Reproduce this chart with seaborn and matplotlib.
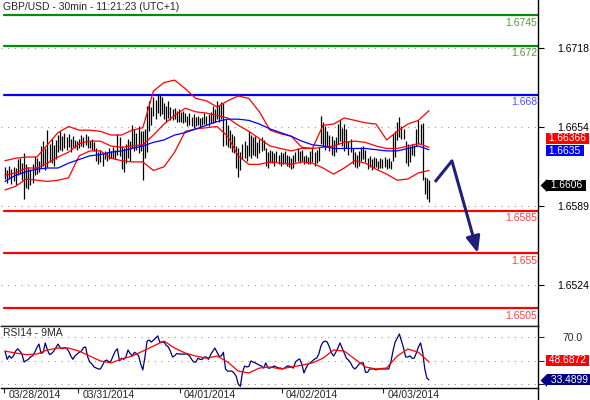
import numpy as np
import pandas as pd
import matplotlib
matplotlib.use('Agg')
import matplotlib.pyplot as plt
import seaborn as sns

sns.set_style('white')
plt.rcParams['font.family'] = ['Liberation Sans', 'DejaVu Sans']
plt.rcParams['font.size'] = 7.5

# GBP/USD 30min bars, 03/28 - 04/03/2014. Prices stored in pips above 1.6500
BASE = 1.65

highs = [
    # 03/28
    121, 118, 122, 119, 121, 120, 127, 128, 124, 132,
    123, 121, 119, 123, 130, 128, 126, 138, 142, 136,
    151, 140, 144, 139, 143, 147, 150, 146, 149, 145,
    148, 144, 146, 143, 142,
    # 03/31
    144, 147, 145, 148, 146, 142, 144, 141, 136, 133,
    135, 132, 134, 133, 136, 134, 137, 135, 148, 145,
    138, 136, 140, 144, 142, 155, 152, 149, 154, 150,
    150, 152, 171, 175, 170, 178, 176, 181, 180, 178,
    173, 171, 175, 170, 168, 169, 167, 168,
    # 04/01
    166, 167, 165, 163, 165, 162, 164, 162, 163, 161,
    162, 165, 163, 164, 166, 171, 168, 175, 172, 174,
    173, 160, 155, 151, 148, 146, 138, 136, 133, 140,
    142, 139, 150, 147, 145, 146, 141, 144, 145, 143,
    136, 133, 135, 134, 132, 134, 131, 133,
    # 04/02
    132, 134, 131, 130, 128, 131, 133, 136, 134, 135,
    130, 131, 129, 134, 136, 133, 135, 137, 163, 158,
    154, 150, 147, 146, 143, 145, 156, 159, 153, 156,
    152, 142, 144, 136, 133, 131, 134, 137, 138, 135,
    128, 130, 127, 129, 128, 126, 128, 127,
    # 04/03
    129, 127, 128, 126, 148, 150, 158, 162, 154,
    152, 142, 140, 138, 140, 139, 152, 159, 156, 157,
    113, 112, 110,
]

lows = [
    # 03/28
    111, 108, 112, 107, 109, 106, 114, 115, 110, 95,
    104, 103, 106, 108, 114, 115, 117, 120, 122, 118,
    121, 125, 124, 122, 127, 133, 135, 134, 136, 135,
    137, 133, 137, 136, 135,
    # 03/31
    136, 138, 137, 139, 136, 136, 135, 134, 126, 123,
    125, 122, 127, 126, 127, 128, 128, 127, 131, 130,
    119, 117, 124, 128, 126, 136, 134, 135, 132, 134,
    110, 128, 133, 150, 155, 163, 160, 165, 163, 164,
    160, 158, 161, 159, 159, 160, 158, 158,
    # 04/01
    158, 157, 158, 154, 155, 154, 153, 154, 155, 153,
    155, 156, 155, 154, 157, 157, 158, 160, 158, 160,
    138, 139, 137, 136, 133, 132, 120, 113, 118, 127,
    128, 126, 130, 128, 131, 130, 128, 132, 134, 135,
    122, 120, 124, 124, 122, 125, 123, 122,
    # 04/02
    123, 124, 122, 121, 119, 120, 125, 126, 124, 126,
    123, 124, 123, 123, 125, 122, 124, 126, 140, 137,
    135, 137, 134, 131, 130, 133, 140, 142, 138, 134,
    136, 131, 133, 123, 121, 120, 122, 126, 127, 125,
    119, 121, 118, 120, 121, 119, 120, 120,
    # 04/03
    121, 119, 120, 119, 126, 129, 143, 145, 144,
    144, 124, 122, 125, 131, 130, 138, 140, 140, 110,
    99, 95, 92,
]

# Bollinger(20) bands and blue MA, read every 5 bars (pips above 1.6500)
bb_upper = [126, 128, 129, 129, 139, 149, 154, 151, 151, 150, 147, 147, 151, 153,
            183, 190, 192, 185, 177, 175, 170, 175, 179, 177, 166, 151, 148, 146,
            137, 136, 155, 156, 161, 159, 157, 156, 143, 150, 156, 159, 167]
bb_middle = [114, 116, 120, 120, 124, 129, 133, 140, 142, 142, 138, 137, 138, 139,
             147, 156, 163, 169, 166, 165, 163, 161, 155, 150, 144, 138, 136, 134,
             136, 136, 137, 138, 141, 142, 141, 138, 136, 136, 138, 140, 137]
bb_lower = [102, 105, 111, 110, 109, 110, 112, 130, 134, 134, 128, 126, 125, 125,
            118, 121, 133, 150, 152, 153, 154, 146, 130, 123, 123, 125, 124, 123,
            125, 124, 120, 115, 120, 126, 124, 119, 115, 110, 111, 116, 118]
ma_blue = [109, 114, 117, 119, 120, 120, 124, 127, 130, 131, 133, 134, 136, 138,
           141, 143, 147, 149, 152, 155, 158, 160, 160, 159, 156, 152, 149, 146,
           142, 139, 138, 136, 136, 136, 136, 135, 134, 134, 136, 138, 135]

rsi = [
    58, 51, 54, 52, 54, 58, 60, 58, 55.5, 48.7,
    50, 51, 53, 54, 57, 61, 64, 56, 57, 65,
    59, 55, 56, 58, 61, 64, 61, 60, 61, 60.6,
    58, 54, 51, 54, 55.5,
    57, 58, 61, 61.5, 53, 48.7, 47, 44.5, 43.6, 42.8,
    42.8, 46, 49.6, 50.4, 48.7, 49.6, 54, 58, 60, 49.6,
    52, 51, 53, 59, 56, 54, 57, 56, 54, 47,
    42, 53, 66.6, 67.4, 65.7, 67.4, 69, 71, 65.7, 65.7,
    65.7, 63, 61.5, 58, 53, 54, 56, 55.5,
    55.5, 55.5, 55.5, 55.5, 54, 51, 48.7, 48.7, 52, 51,
    51, 53, 53, 51, 55, 58, 60.6, 57, 53.8, 53.8,
    57, 42.8, 41, 41, 41, 39.4, 36.8, 30, 28, 40,
    45.3, 44.5, 45, 49.6, 48.7, 48, 47, 46, 45.3, 43.6,
    48, 43.6, 43.6, 44.5, 45.3, 44.5, 43.6, 43.6,
    42.8, 43.6, 45.3, 45.3, 44.5, 43.6, 48.7, 50.4, 51.3, 47,
    39.4, 43.6, 47, 48, 49.6, 51.3, 52, 55.5, 62.3, 65.7,
    66.6, 65.7, 61.5, 56.4, 53.8, 57, 60.6, 65, 60.6, 56.4,
    52, 50.4, 48, 44.5, 42.8, 44.5, 47, 48, 48, 40,
    40, 42.8, 42.8, 42.8, 42, 42.8, 42.8, 42.8,
    42.8, 42.8, 42.8, 48.7, 58, 65.7, 69, 72.6, 66.6,
    60.6, 53, 53, 54, 52, 52, 56.4, 61.5, 65, 57,
    42.8, 35, 33.5,
]
rsi_ma = [58, 56.4, 55, 55.5, 59, 60.6, 60.6, 58, 53.8, 49.6, 48, 51.3, 53.8, 58,
          62.3, 66.6, 60.6, 56.4, 53.8, 52, 53.8, 48.7, 41, 39.4, 43.6, 44.5, 42.8,
          44.5, 46, 48, 52, 59, 58, 51.3, 44.5, 42.8, 43.6, 53.8, 59.8, 57, 48.7]

levels = [1.6745, 1.672, 1.668, 1.6585, 1.655, 1.6505]
level_labels = ['1.6745', '1.672', '1.668', '1.6585', '1.655', '1.6505']
level_colors = ['#0a8a0a', '#0a8a0a', '#0000ff', '#ff0000', '#ff0000', '#ff0000']
level_text_colors = ['#5a9a3a', '#5a9a3a', '#5050ff', '#ff4040', '#ff4040', '#ff4040']

price_ticks = [1.67183, 1.66536, 1.65889, 1.65242]
price_tick_labels = ['1.6718', '1.6654', '1.6589', '1.6524']
rsi_ticks = [70, 50, 30]

day_starts = [-0.5, 34.5, 82.5, 130.5, 178.5]
day_labels = ['03/28/2014', '03/31/2014', '04/01/2014', '04/02/2014', '04/03/2014']

# forecast arrow (bar index, price)
arrow_idx = [202.8, 210.8, 223.0]
arrow_price = [1.66086, 1.66258, 1.65504]

last_close = 1.6606
last_bb_mid = 1.66366
last_ma = 1.6635
last_rsi = 33.4899
last_rsi_ma = 48.6872

# ---------------------------------------------------------------
bars = pd.DataFrame({'idx': np.arange(len(highs)),
                     'high': BASE + np.array(highs) / 1e4,
                     'low': BASE + np.array(lows) / 1e4,
                     'rsi': rsi})
bands = pd.DataFrame({'idx': np.arange(0, len(highs), 5),
                      'upper': BASE + np.array(bb_upper) / 1e4,
                      'middle': BASE + np.array(bb_middle) / 1e4,
                      'lower': BASE + np.array(bb_lower) / 1e4,
                      'ma': BASE + np.array(ma_blue) / 1e4,
                      'rsi_ma': rsi_ma})

W, H = 590, 400
fig = plt.figure(figsize=(W / 100, H / 100), dpi=100)
ax1 = fig.add_axes([1 / W, (H - 326) / H, 537 / W, 326 / H])
ax2 = fig.add_axes([1 / W, (H - 388) / H, 537 / W, 62 / H])
xlim = (-1.9, 251.4)

# --- price panel
for lv, c in zip(levels, level_colors):
    ax1.axhline(lv, xmin=3 / 537, color=c, lw=1.6, zorder=2)
for lv, txt, tc in zip(levels, level_labels, level_text_colors):
    ax1.annotate(txt, xy=(1, lv), xycoords=('axes fraction', 'data'),
                 xytext=(-0.7, -1.6), textcoords='offset points',
                 ha='right', va='top', color=tc)

ax1.vlines(bars['idx'], bars['low'], bars['high'], color='black', lw=0.9, zorder=4)
for col, c in [('upper', '#ff0000'), ('middle', '#ff0000'), ('lower', '#ff0000'), ('ma', '#0000ff')]:
    sns.lineplot(data=bands, x='idx', y=col, color=c, lw=0.9, ax=ax1, zorder=5)

navy = '#20207a'
ax1.plot(arrow_idx[:2], arrow_price[:2], color=navy, lw=2.2, solid_capstyle='butt', zorder=6)
ax1.annotate('', xy=(arrow_idx[2], arrow_price[2]), xytext=(arrow_idx[1], arrow_price[1]),
             arrowprops=dict(arrowstyle='-|>,head_length=0.7,head_width=0.3', lw=2.2,
                             color=navy, shrinkA=0, shrinkB=0, mutation_scale=14), zorder=6)

ax1.set_xlim(*xlim)
ax1.set_ylim(1.64906, 1.67576)
ax1.yaxis.tick_right()
ax1.set_yticks(price_ticks)
ax1.set_yticklabels(price_tick_labels)
ax1.tick_params(axis='y', direction='out', length=4, width=0.8, pad=10, colors='black')
ax1.set_xticks([])
ax1.grid(axis='y', color='#999999', linestyle=(0, (1, 5)), lw=0.8)
ax1.set_xlabel('')
ax1.set_ylabel('')
ax1.text(2 / 537, 1 - 1.5 / 326, 'GBP/USD - 30min - 11:21:23 (UTC+1)',
         transform=ax1.transAxes, ha='left', va='top')

# --- RSI panel
sns.lineplot(data=bars, x='idx', y='rsi', color='#000080', lw=0.9, ax=ax2, zorder=4)
sns.lineplot(data=bands, x='idx', y='rsi_ma', color='#ff0000', lw=0.9, ax=ax2, zorder=5)
ax2.set_xlim(*xlim)
ax2.set_ylim(26.6, 79.4)
ax2.yaxis.tick_right()
ax2.set_yticks(rsi_ticks)
ax2.set_yticklabels(['70.0', '', ''])
ax2.tick_params(axis='y', direction='out', length=4, width=0.8, pad=13.5)
ax2.grid(axis='y', color='#999999', linestyle=(0, (1, 5)), lw=0.8)
ax2.set_xticks(day_starts)
ax2.tick_params(axis='x', direction='out', length=3.6, width=0.8, labelbottom=False, bottom=True)
ax2.set_xlabel('')
ax2.set_ylabel('')
ax2.text(2 / 537, 1 - 1.5 / 62, 'RSI14 - 9MA', transform=ax2.transAxes, ha='left', va='top')
for d, lab in zip(day_starts, day_labels):
    ax2.annotate(lab, xy=(d, 0), xycoords=('data', 'axes fraction'), xytext=(3, -1.4),
                 textcoords='offset points', ha='left', va='top', annotation_clip=False)

for ax in (ax1, ax2):
    for s in ('left', 'top'):
        ax.spines[s].set_visible(False)
    for s in ('right', 'bottom'):
        ax.spines[s].set_visible(True)
        ax.spines[s].set_color('black')
        ax.spines[s].set_linewidth(1.0)
ax2.spines['top'].set_visible(True)
ax2.spines['top'].set_linewidth(1.0)
fig.add_artist(plt.Line2D([538 / W, 538 / W], [0, 12 / H], color='black', lw=1.0,
                          transform=fig.transFigure))

# --- value boxes on the right
def value_box(ax, value, text, color, dy=0.0, pointer=False):
    dx = 7.2 if pointer else 5.8
    ax.annotate(' ' + text + ' ', xy=(1, value), xycoords=('axes fraction', 'data'),
                xytext=(dx, dy), textcoords='offset points', ha='left', va='center',
                color='white', fontsize=7.4, annotation_clip=False,
                bbox=dict(boxstyle='square,pad=0.05', fc=color, ec='none'))
    if pointer:
        tip = [(0, 0), (1, 1), (1, -1)]
        ax.plot([1 + 2 / 537], [value], marker=tip, markersize=9.5, color=color,
                markeredgewidth=0, transform=ax.get_yaxis_transform(), clip_on=False)

value_box(ax1, last_bb_mid, '1.66366', '#ff0000', dy=6.8)
value_box(ax1, last_ma, '1.6635', '#0000ff', dy=-0.6)
value_box(ax1, last_close, '1.6606', '#000000', pointer=True)
value_box(ax2, last_rsi_ma, '48.6872', '#ff0000', dy=1.4)
value_box(ax2, last_rsi, '33.4899', '#000080', pointer=True)

fig.savefig('out.png', dpi=100)
